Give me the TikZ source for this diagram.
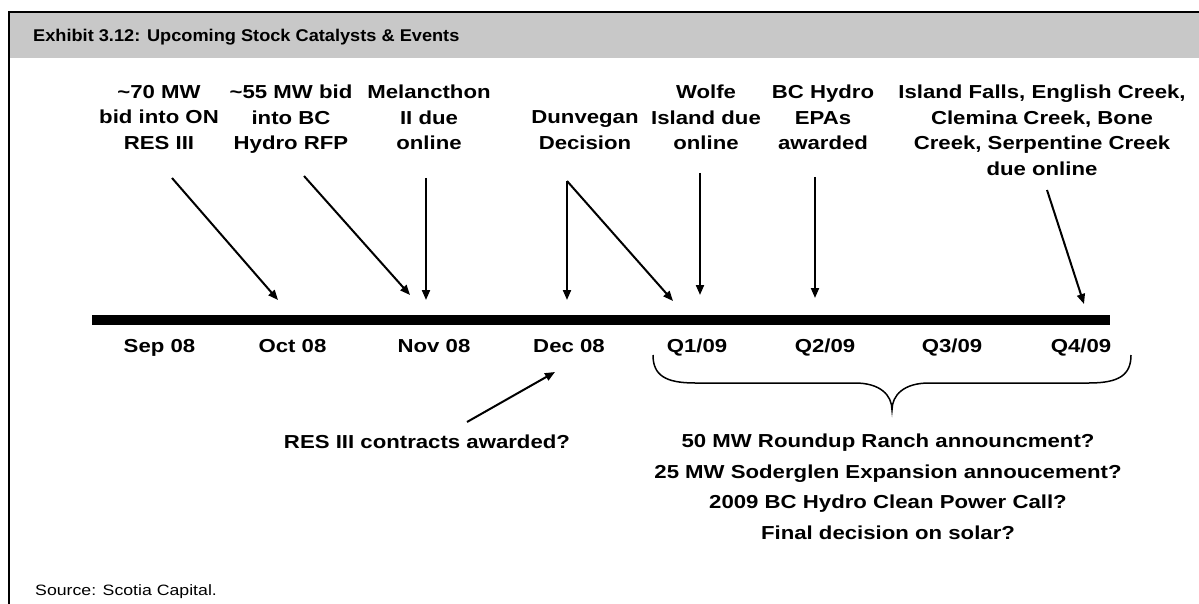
\documentclass[tikz,border=0pt]{standalone}
\usepackage{fontspec}
\setmainfont{Liberation Sans}
\newfontfamily\widesans{Liberation Sans}[FakeStretch=1.18]
\newfontfamily\headsans{Liberation Sans}[FakeStretch=1.07]
\usetikzlibrary{arrows.meta}
\definecolor{headgray}{RGB}{200,200,200}
\begin{document}
\begin{tikzpicture}[x=1pt,y=-1pt,
  lbl/.style={font={\widesans\bfseries\fontsize{18.8}{25.5}\selectfont}, align=center, inner sep=0pt, anchor=north},
  tick/.style={font={\widesans\bfseries\fontsize{18.8}{22}\selectfont}, inner sep=0pt, anchor=base},
  pointer/.style={line width=2pt, -{Triangle[length=10pt,width=8pt]}},
  ]
\useasboundingbox (0,0) rectangle (1199,604);
\fill[white] (0,0) rectangle (1199,604);
% header band and frame
\fill[headgray] (9,12) rectangle (1199,58);
\draw[line width=2pt] (9,604) -- (9,12) -- (1199,12);
\node[font={\headsans\bfseries\fontsize{17}{20}\selectfont}, anchor=base west, inner sep=0pt] (title) at (33,41.5) {Exhibit 3.12: Upcoming Stock Catalysts \& Events};

% event labels above the timeline
\node[lbl] (l70) at (159,85) {\textasciitilde70 MW\\bid into ON\\RES III};
\node[lbl] (l55) at (291,85) {\textasciitilde55 MW bid\\into BC\\Hydro RFP};
\node[lbl] (lmel) at (429,85) {Melancthon\\II due\\online};
\node[lbl] (ldun) at (585,110.5) {Dunvegan\\Decision};
\node[lbl] (lwol) at (706,85) {Wolfe\\Island due\\online};
\node[lbl] (lbch) at (823,85) {BC Hydro\\EPAs\\awarded};
\node[lbl] (lisl) at (1042,85) {Island Falls, English Creek,\\Clemina Creek, Bone\\Creek, Serpentine Creek\\due online};

% timeline bar
\draw[line width=10pt] (92,320) -- (1110,320);

% period labels
\node[tick] (sep) at (159.5,352) {Sep 08};
\node[tick] (oct) at (292.5,352) {Oct 08};
\node[tick] (nov) at (434,352) {Nov 08};
\node[tick] (dec) at (569,352) {Dec 08};
\node[tick] (q1) at (697,352) {Q1/09};
\node[tick] (q2) at (825,352) {Q2/09};
\node[tick] (q3) at (952,352) {Q3/09};
\node[tick] (q4) at (1081,352) {Q4/09};

% arrow end points
\coordinate (s70) at (172,178);   \coordinate (e70) at (278,300);
\coordinate (s55) at (304,176);   \coordinate (e55) at (410,295);
\coordinate (smel) at (426,178);  \coordinate (emel) at (426,300);
\coordinate (sdun) at (567,181);  \coordinate (edun) at (567,300);
                                  \coordinate (edq) at (673,301);
\coordinate (swol) at (700,173);  \coordinate (ewol) at (700,295);
\coordinate (sbch) at (815,177);  \coordinate (ebch) at (815,298);
\coordinate (sisl) at (1047,190); \coordinate (eisl) at (1084,304);
\coordinate (sres) at (467,422);  \coordinate (eres) at (555,372);

\draw[pointer] (s70) -- (e70);
\draw[pointer] (s55) -- (e55);
\draw[pointer] (smel) -- (emel);
\draw[pointer] (sdun) -- (edun);
\draw[pointer] (sdun) -- (edq);
\draw[pointer] (swol) -- (ewol);
\draw[pointer] (sbch) -- (ebch);
\draw[pointer] (sisl) -- (eisl);
\draw[pointer] (sres) -- (eres);

% brace grouping the 2009 quarters
\draw[line width=1.5pt] (653,355) .. controls (653,375) and (665,383) .. (695,383)
  -- (855,383) .. controls (880,383) and (892,395) .. (892,410)
  .. controls (892,395) and (904,383) .. (929,383)
  -- (1089,383) .. controls (1119,383) and (1131,375) .. (1131,355);

% labels below the timeline
\node[tick] (res) at (427,448) {RES III contracts awarded?};
\node[lbl, font={\widesans\bfseries\fontsize{18.8}{30.5}\selectfont}] (later) at (888,434)
  {50 MW Roundup Ranch announcment?\\25 MW Soderglen Expansion annoucement?\\2009 BC Hydro Clean Power Call?\\Final decision on solar?};

\node[font={\widesans\fontsize{15}{18}\selectfont}, anchor=base west, inner sep=0pt] (src) at (35,595) {Source: Scotia Capital.};
\end{tikzpicture}
\end{document}
